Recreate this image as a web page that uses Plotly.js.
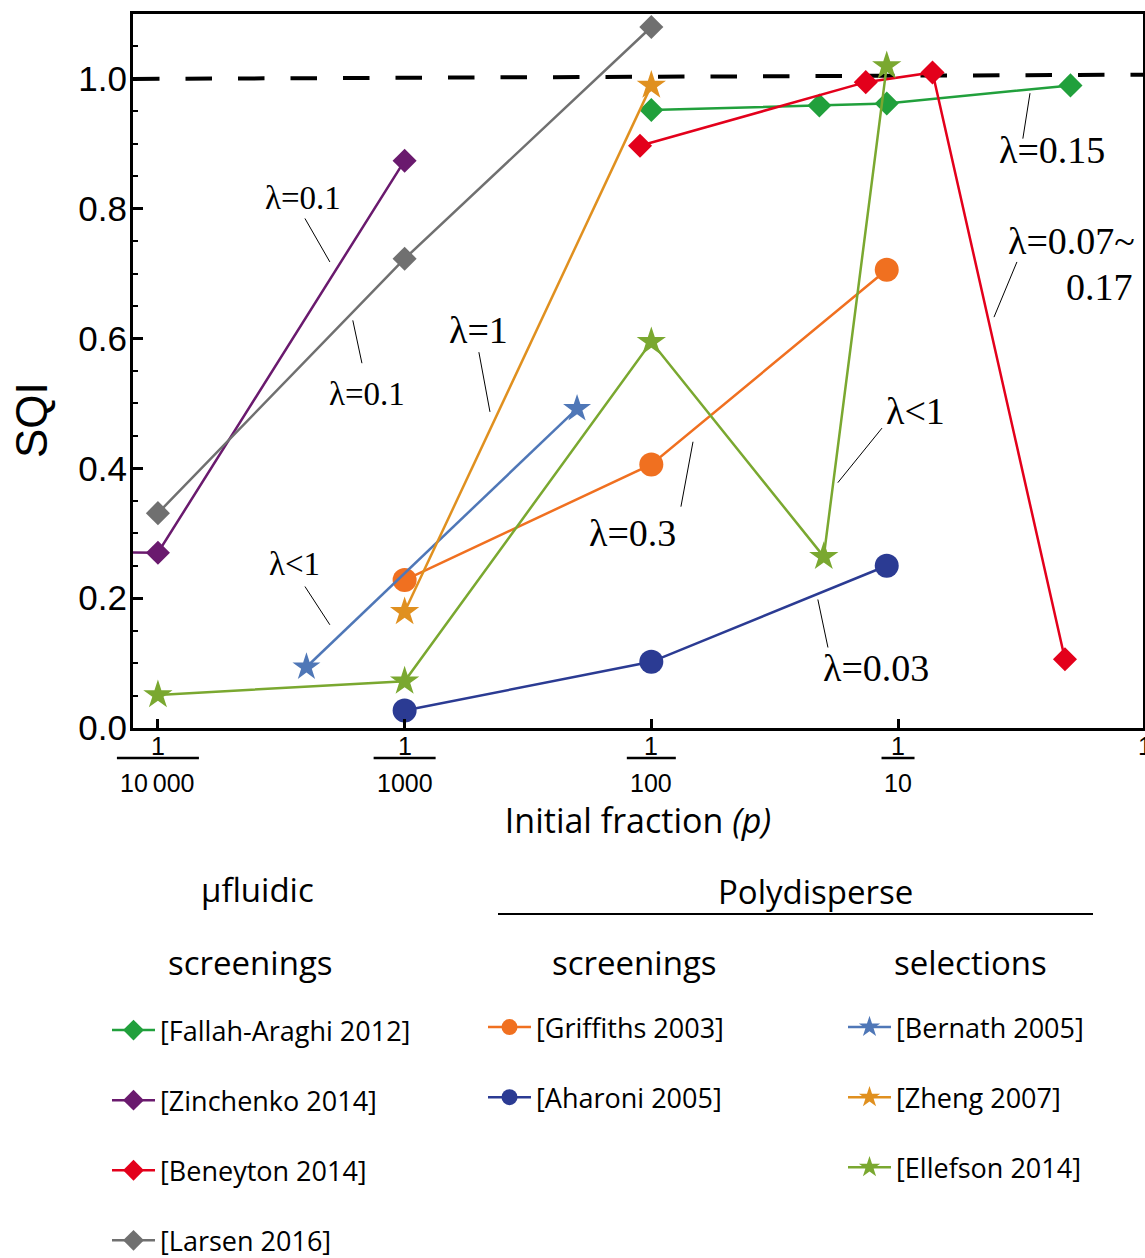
<!DOCTYPE html>
<html><head><meta charset="utf-8">
<script src="https://cdn.plot.ly/plotly-3.0.1.min.js"></script>
<style>html,body{margin:0;padding:0;background:#fff}#chart{width:1145px;height:1258px}</style>
</head><body><div id="chart"></div>
<script>
// ---------------- data ----------------
const fallahP   = [0.01, 0.048, 0.09, 0.5];
const fallahSQI = [0.952, 0.959, 0.962, 0.990];
const zinchP    = [1e-5, 1e-4, 1e-3];
const zinchSQI  = [0.275, 0.270, 0.874];
const beneyP    = [0.009, 0.074, 0.138, 0.475];
const beneySQI  = [0.897, 0.995, 1.010, 0.106];
const larsenP   = [1e-4, 1e-3, 1e-2];
const larsenSQI = [0.331, 0.723, 1.080];
const griffP    = [1e-3, 1e-2, 0.09];
const griffSQI  = [0.228, 0.406, 0.706];
const aharP     = [1e-3, 1e-2, 0.09];
const aharSQI   = [0.027, 0.102, 0.250];
const bernP     = [4e-4, 0.005];
const bernSQI   = [0.094, 0.492];
const zhengP    = [1e-3, 1e-2];
const zhengSQI  = [0.179, 0.990];
const ellefP    = [1e-4, 1e-3, 1e-2, 0.05, 0.09];
const ellefSQI  = [0.051, 0.072, 0.595, 0.264, 1.020];

const xTickVals = [1e-4, 1e-3, 1e-2, 1e-1, 1];
const xTickNum  = ['1', '1', '1', '1', '1'];
const xTickDen  = ['10\u2009000', '1000', '100', '10', ''];

const lambdaText = ['λ=0.1', 'λ=0.1', 'λ=1', 'λ=0.15', 'λ=0.07~', '0.17', 'λ<1', 'λ=0.3', 'λ<1', 'λ=0.03'];
const yTitle = 'SQI';

// ---------------- layout helpers ----------------
const W = 1145, H = 1258;
const M = {l: 133, r: 2, t: 14, b: 530, autoexpand: false};
const plotW = W - M.l - M.r, plotH = H - M.t - M.b;
const XR = [-4.101, -0.007];
function px(X) { return (X - M.l) / plotW; }
function py(Y) { return (H - M.b - Y) / plotH; }
function cx(X) { return X / W; }
function cy(Y) { return 1 - Y / H; }
function fx(logv) { return (logv - XR[0]) / (XR[1] - XR[0]); }

const C = {
  fallah: '#21a03c', zinch: '#6a1a6e', beney: '#e3001b', larsen: '#707070',
  griff: '#f07020', ahar: '#2b3b93', bern: '#4f77b7', zheng: '#e0901f', ellef: '#7aa830'
};

function tr(name, p, s, color, symbol, size, legend) {
  return {
    type: 'scatter', mode: 'lines+markers', name: name, x: p, y: s,
    legend: legend, legendgroup: name,
    line: {color: color, width: 2.5},
    marker: {color: color, symbol: symbol, size: size, line: {width: 0}},
    cliponaxis: true, hoverinfo: 'x+y+name'
  };
}

const data = [
  tr('[Fallah-Araghi 2012]', fallahP, fallahSQI, C.fallah, 'diamond', 18.5, 'legend'),
  tr('[Zinchenko 2014]', zinchP, zinchSQI, C.zinch, 'diamond', 18.5, 'legend'),
  tr('[Beneyton 2014]', beneyP, beneySQI, C.beney, 'diamond', 18.5, 'legend'),
  tr('[Larsen 2016]', larsenP, larsenSQI, C.larsen, 'diamond', 18.5, 'legend'),
  tr('[Griffiths 2003]', griffP, griffSQI, C.griff, 'circle', 24, 'legend2'),
  tr('[Aharoni 2005]', aharP, aharSQI, C.ahar, 'circle', 24, 'legend2'),
  tr('[Bernath 2005]', bernP, bernSQI, C.bern, 'star', 21, 'legend3'),
  tr('[Zheng 2007]', zhengP, zhengSQI, C.zheng, 'star', 22, 'legend3'),
  tr('[Ellefson 2014]', ellefP, ellefSQI, C.ellef, 'star', 22, 'legend3')
];

// lambda label placement (log10 p, SQI, font size)
const lambdaPos = [
  [-3.412, 0.816, 33], [-3.153, 0.515, 33], [-2.699, 0.613, 38], [-0.376, 0.890, 38],
  [-0.295, 0.751, 38], [-0.182, 0.679, 38], [-0.931, 0.488, 38], [-2.075, 0.300, 38],
  [-3.445, 0.253, 33], [-1.090, 0.093, 38]
];
// leader lines (log10 p0, SQI0, log10 p1, SQI1)
const leaders = [
  [-3.404, 0.785, -3.303, 0.718], [-3.210, 0.628, -3.173, 0.562], [-2.699, 0.579, -2.654, 0.487],
  [-0.465, 0.978, -0.494, 0.908], [-0.518, 0.718, -0.611, 0.633], [-1.065, 0.462, -1.244, 0.378],
  [-1.831, 0.441, -1.880, 0.341], [-3.404, 0.218, -3.303, 0.159], [-1.325, 0.198, -1.284, 0.124]
];
const barWidths = [82, 62, 49, 33, 0];

const annotations = [];
const shapes = [];

// reference line SQI = 1
shapes.push({type: 'line', xref: 'paper', yref: 'y', x0: 0, x1: 1, y0: 1.0, y1: 1.0065,
  line: {color: 'black', width: 4, dash: '26.5px,26px'}, layer: 'below'});

lambdaText.forEach(function (t, i) {
  annotations.push({xref: 'x', yref: 'y', x: lambdaPos[i][0], y: lambdaPos[i][1], text: t,
    showarrow: false, font: {family: 'Liberation Serif', size: lambdaPos[i][2], color: 'black'}});
});
leaders.forEach(function (l) {
  shapes.push({type: 'line', xref: 'paper', yref: 'y', x0: fx(l[0]), y0: l[1], x1: fx(l[2]), y1: l[3],
    line: {color: 'black', width: 1}});
});

// y axis title (drawn as rotated text beside the axis)
annotations.push({xref: 'paper', yref: 'paper', x: px(31), y: py(420), xanchor: 'center', yanchor: 'middle',
  text: yTitle, textangle: -90, showarrow: false, font: {family: 'Liberation Sans', size: 44, color: 'black'}});

// fractional x tick labels
xTickVals.forEach(function (v, i) {
  const f = fx(Math.log10(v));
  annotations.push({xref: 'paper', yref: 'paper', x: f, y: 0, yshift: -18, xanchor: 'center', yanchor: 'middle',
    text: xTickNum[i], showarrow: false, font: {family: 'Liberation Sans', size: 25, color: 'black'}});
  if (xTickDen[i]) {
    annotations.push({xref: 'paper', yref: 'paper', x: f, y: 0, yshift: -55, xanchor: 'center', yanchor: 'middle',
      text: xTickDen[i], showarrow: false, font: {family: 'Liberation Sans', size: 25, color: 'black'}});
    shapes.push({type: 'line', xref: 'paper', yref: 'paper', xsizemode: 'pixel', ysizemode: 'pixel',
      xanchor: f, yanchor: 0, x0: -barWidths[i] / 2, x1: barWidths[i] / 2, y0: -30, y1: -30,
      line: {color: 'black', width: 2.5}});
  }
});

// legend headers
const hdrFont = {family: 'Open Sans', size: 33, color: 'black'};
[['μfluidic', 257, 889], ['screenings', 250, 962], ['Polydisperse', 815, 891],
 ['screenings', 634, 962], ['selections', 970, 962]].forEach(function (h) {
  annotations.push({xref: 'paper', yref: 'paper', x: px(h[1]), y: py(h[2]), xanchor: 'center', yanchor: 'middle',
    text: h[0], showarrow: false, font: hdrFont});
});
shapes.push({type: 'line', xref: 'paper', yref: 'paper', x0: px(498), x1: px(1093), y0: py(914), y1: py(914),
  line: {color: 'black', width: 2}});

const legFont = {family: 'Open Sans', size: 27, color: 'black'};
function leg(X, Y) {
  return {xref: 'container', yref: 'container', x: cx(X), y: cy(Y), xanchor: 'left', yanchor: 'top',
    font: legFont, bgcolor: 'rgba(0,0,0,0)', borderwidth: 0, tracegroupgap: 32, traceorder: 'grouped',
    itemwidth: 43, itemsizing: 'trace'};
}

const layout = {
  width: W, height: H, margin: M,
  paper_bgcolor: 'white', plot_bgcolor: 'white',
  showlegend: true,
  xaxis: {
    type: 'log', range: XR, showgrid: false, zeroline: false, automargin: false,
    showline: true, linecolor: 'black', linewidth: 3, mirror: true,
    ticks: 'inside', ticklen: 9, tickwidth: 3, tickcolor: 'black',
    tickmode: 'array', tickvals: xTickVals.slice(0, 4), showticklabels: false,
    title: {text: 'Initial fraction <i>(p)</i>', font: {family: 'Open Sans', size: 34, color: 'black'}, standoff: 80}
  },
  yaxis: {
    range: [0, 1.1], showgrid: false, zeroline: false, automargin: false,
    showline: true, linecolor: 'black', linewidth: 3, mirror: true,
    ticks: 'inside', ticklen: 10, tickwidth: 3, tickcolor: 'black',
    tick0: 0, dtick: 0.2, tickformat: '.1f', ticklabelstandoff: -4,
    tickfont: {family: 'Liberation Sans', size: 35, color: 'black'},
    minor: {dtick: 0.05, ticks: 'inside', ticklen: 5, tickwidth: 2, tickcolor: 'black', showgrid: false}
  },
  legend: leg(107, 1006),
  legend2: leg(483, 1003),
  legend3: leg(843, 1003),
  annotations: annotations,
  shapes: shapes
};

Plotly.newPlot('chart', data, layout, {displayModeBar: false, staticPlot: true});
</script>
</body></html>
